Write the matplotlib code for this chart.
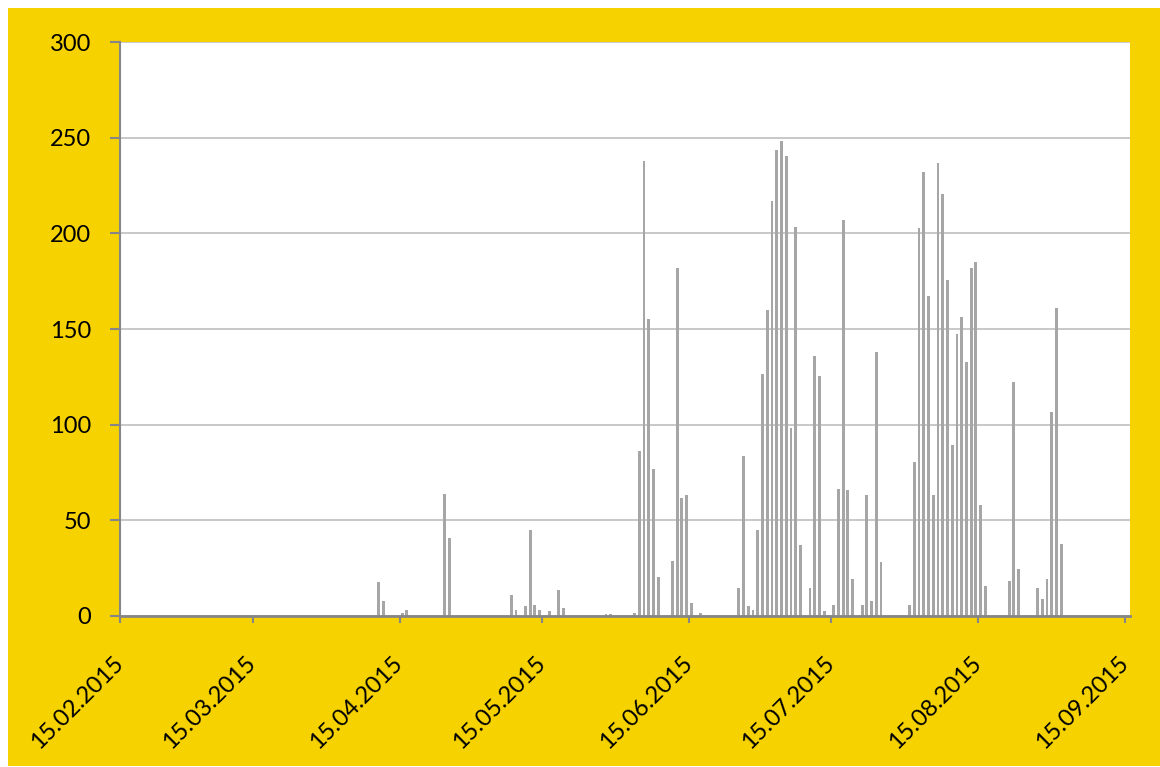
import numpy as np
import pandas as pd
import matplotlib
matplotlib.use('Agg')
import matplotlib.pyplot as plt
import matplotlib.dates as mdates
import matplotlib.transforms as mtransforms
from matplotlib.patches import Rectangle

# daily values (only days that are not zero)
dates = [
    '2015-04-10', '2015-04-11', '2015-04-15', '2015-04-16', '2015-04-24', '2015-04-25',
    '2015-05-08', '2015-05-09', '2015-05-11', '2015-05-12', '2015-05-13', '2015-05-14',
    '2015-05-16', '2015-05-18', '2015-05-19', '2015-05-28', '2015-05-29',
    '2015-06-03', '2015-06-04', '2015-06-05', '2015-06-06', '2015-06-07', '2015-06-08',
    '2015-06-11', '2015-06-12', '2015-06-13', '2015-06-14', '2015-06-15', '2015-06-17',
    '2015-06-25', '2015-06-26', '2015-06-27', '2015-06-28', '2015-06-29', '2015-06-30',
    '2015-07-01', '2015-07-02', '2015-07-03', '2015-07-04', '2015-07-05', '2015-07-06',
    '2015-07-07', '2015-07-08', '2015-07-10', '2015-07-11', '2015-07-12', '2015-07-13',
    '2015-07-15', '2015-07-16', '2015-07-17', '2015-07-18', '2015-07-19', '2015-07-21',
    '2015-07-22', '2015-07-23', '2015-07-24', '2015-07-25', '2015-07-31',
    '2015-08-01', '2015-08-02', '2015-08-03', '2015-08-04', '2015-08-05', '2015-08-06',
    '2015-08-07', '2015-08-08', '2015-08-09', '2015-08-10', '2015-08-11', '2015-08-12',
    '2015-08-13', '2015-08-14', '2015-08-15', '2015-08-16', '2015-08-21', '2015-08-22',
    '2015-08-23', '2015-08-27', '2015-08-28', '2015-08-29', '2015-08-30', '2015-08-31',
    '2015-09-01',
]
values = [
    18, 8, 1.5, 3, 64, 41,
    11, 3, 5, 45, 6, 3,
    2.5, 13.5, 4, 1, 1,
    1.5, 86, 238, 155, 77, 20.5,
    29, 182, 61.5, 63.5, 7, 1.5,
    14.5, 83.5, 5, 3, 45, 126.5,
    160, 217, 243.5, 248.5, 240.5, 98,
    203.5, 37, 14.5, 136, 125.5, 2.5,
    6, 66.5, 207, 66, 19.5, 6,
    63.5, 8, 138, 28, 6,
    80.5, 203, 232, 167, 63.5, 236.5,
    220.5, 175.5, 89.5, 147.5, 156.5, 132.5,
    182, 185, 58, 15.5, 18.5, 122.5,
    24.5, 14.5, 9, 19.5, 106.5, 161,
    37.5,
]
tick_dates = ['2015-02-15', '2015-03-15', '2015-04-15', '2015-05-15',
              '2015-06-15', '2015-07-15', '2015-08-15', '2015-09-15']
y_ticks = [0, 50, 100, 150, 200, 250, 300]

yellow = '#F5D200'
axis_grey = '#868686'
grid_grey = '#C4C4C4'
bar_grey = '#A6A6A6'

plt.rcParams['font.family'] = ['Lato', 'DejaVu Sans']

fig = plt.figure(figsize=(11.6, 7.67), dpi=100, facecolor='white')
fig.patches.append(Rectangle((8 / 1160, 1 / 767), 1152 / 1160, 758 / 767,
                             transform=fig.transFigure, facecolor=yellow,
                             edgecolor='none', zorder=-10))

ax = fig.add_axes([120 / 1160, (767 - 616) / 767, 1010 / 1160, (616 - 42) / 767])
ax.set_facecolor('white')

x = pd.to_datetime(dates) + pd.Timedelta(hours=12)
ax.bar(mdates.date2num(x), values, width=0.6, color=bar_grey, zorder=2)

ax.set_xlim(mdates.date2num(pd.Timestamp('2015-02-15')),
            mdates.date2num(pd.Timestamp('2015-09-16')))
ax.set_ylim(0, 300)

ax.set_yticks(y_ticks)
ax.set_yticklabels([str(v) for v in y_ticks], fontsize=17)
ax.yaxis.grid(True, color=grid_grey, linewidth=1.3, zorder=1)
ax.set_axisbelow(True)

tk = mdates.date2num(pd.to_datetime(tick_dates))
ax.set_xticks(tk)
ax.set_xticklabels(pd.to_datetime(tick_dates).strftime('%d.%m.%Y'),
                   rotation=45, ha='right', fontsize=17)

ax.tick_params(axis='y', direction='out', length=7, width=1.5, color=axis_grey, pad=14)
ax.tick_params(axis='x', direction='out', length=5, width=1.5, color=axis_grey, pad=21)

# nudge the slanted date labels a little to the right
shift = mtransforms.ScaledTranslation(7 / 100, 0, fig.dpi_scale_trans)
for lab in ax.get_xticklabels():
    lab.set_transform(lab.get_transform() + shift)

for s in ['top', 'right']:
    ax.spines[s].set_visible(False)
ax.spines['left'].set_color(axis_grey)
ax.spines['left'].set_linewidth(1.5)
ax.spines['bottom'].set_color(axis_grey)
ax.spines['bottom'].set_linewidth(2)
ax.spines['bottom'].set_zorder(3)

fig.savefig('out.png', dpi=100, facecolor='white')
